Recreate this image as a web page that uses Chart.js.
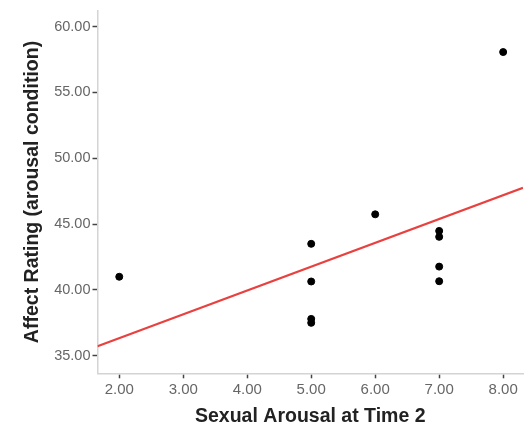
<!DOCTYPE html>
<html>
<head>
<meta charset="utf-8">
<script src="https://cdn.jsdelivr.net/npm/chart.js@4/dist/chart.umd.min.js"></script>
<style>
html,body{margin:0;padding:0;background:#fff;}
#wrap{width:531px;height:426px;position:relative;}
</style>
</head>
<body>
<div id="wrap"><canvas id="c"></canvas></div>
<script>
// Data
const arousalX = [2, 5, 5, 5, 5, 6, 7, 7, 7, 7, 8];
const affectY = [41.0, 43.5, 40.64, 37.8, 37.5, 45.74, 44.48, 44.03, 41.77, 40.66, 58.06];
const fitLineX = [1.66, 8.31];
const fitLineY = [35.73, 47.75];
const xTicks = [2, 3, 4, 5, 6, 7, 8];
const yTicks = [35, 40, 45, 50, 55, 60];
const xTitle = 'Sexual Arousal at Time 2';
const yTitle = 'Affect Rating (arousal condition)';

const points = arousalX.map((x, i) => ({x: x, y: affectY[i]}));
const fitPts = fitLineX.map((x, i) => ({x: x, y: fitLineY[i]}));

const FONT = "'Liberation Sans', Arial, sans-serif";

new Chart(document.getElementById('c'), {
  type: 'scatter',
  data: {
    datasets: [
      {
        data: points,
        backgroundColor: '#000',
        borderColor: '#000',
        pointRadius: 3.5,
        pointHoverRadius: 3.5,
        order: 2
      },
      {
        type: 'line',
        data: fitPts,
        borderColor: '#e8413f',
        borderWidth: 2.2,
        pointRadius: 0,
        fill: false,
        order: 1
      }
    ]
  },
  options: {
    responsive: true,
    maintainAspectRatio: false,
    animation: false,
    events: [],
    layout: {padding: {left: 21, right: 8, top: 8, bottom: 0}},
    plugins: {legend: {display: false}, tooltip: {enabled: false}},
    scales: {
      x: {
        type: 'linear',
        min: 1.66,
        max: 8.31,
        afterBuildTicks: (s) => { s.ticks = xTicks.map(v => ({value: v})); },
        afterFit: (s) => { s.height = 52.7; },
        border: {display: true, color: '#d4d4d4', width: 1.5},
        grid: {display: true, drawOnChartArea: false, drawTicks: true, tickLength: 5, tickColor: '#444', tickWidth: 1.5},
        ticks: {
          color: '#666',
          font: {family: FONT, size: 15},
          padding: 3,
          maxRotation: 0,
          callback: (v) => Number(v).toFixed(2)
        },
        title: {
          display: true,
          text: xTitle,
          color: '#222',
          font: {family: FONT, size: 19.5, weight: 'bold', lineHeight: 1},
          padding: {top: 0, bottom: 0}
        }
      },
      y: {
        type: 'linear',
        min: 33.67,
        max: 61.2,
        afterBuildTicks: (s) => { s.ticks = yTicks.map(v => ({value: v})); },
        afterFit: (s) => { s.width = 76.5; },
        border: {display: true, color: '#d4d4d4', width: 1.5},
        grid: {display: true, drawOnChartArea: false, drawTicks: true, tickLength: 5, tickColor: '#444', tickWidth: 1.5},
        ticks: {
          color: '#666',
          font: {family: FONT, size: 14.5},
          padding: 2,
          callback: (v) => Number(v).toFixed(2)
        },
        title: {
          display: true,
          text: yTitle,
          color: '#222',
          font: {family: FONT, size: 19.5, weight: 'bold'},
          padding: {top: 0, bottom: 4}
        }
      }
    }
  }
});
</script>
</body>
</html>
